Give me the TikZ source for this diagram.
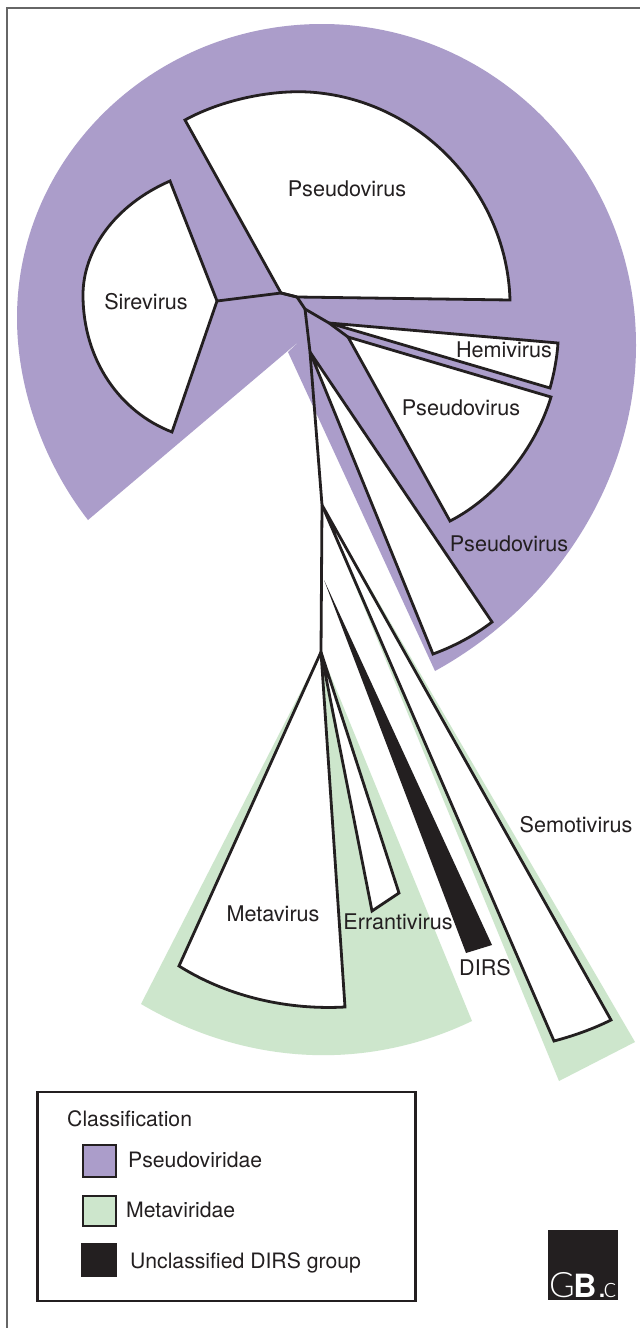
\documentclass[tikz,border=0pt]{standalone}
\usepackage{fontspec}
\setmainfont{TeX Gyre Heros}
\newfontfamily\logolight{Lato Light}
\definecolor{purp}{HTML}{AB9DCA}
\definecolor{gree}{HTML}{CDE6CC}
\definecolor{ink}{HTML}{231F20}
\tikzset{
  leaf/.style={fill=white,draw=ink,line width=2.8pt,line join=miter,miter limit=4},
  branch/.style={draw=ink,line width=2.8pt,line cap=round,line join=round},
  lab/.style={text=ink,font=\fontsize{21.6}{24}\selectfont,inner sep=0pt},
  keylab/.style={text=ink,font=\fontsize{21.2}{24}\selectfont,inner sep=0pt,anchor=west},
  swatch/.style={draw=ink,line width=2.5pt},
}
\begin{document}
\begin{tikzpicture}[x=1pt,y=-1pt]
\useasboundingbox (0,0) rectangle (640,1328);
\fill[white] (0,0) rectangle (640,1328);
\draw[gray!80!black,line width=1.3pt] (7,1328) -- (7,8) -- (640,8);
% purple background
\fill[purp] (88,520) .. controls (45,465) and (17,390) .. (17,318)
  .. controls (17,156) and (154,24) .. (322,24)
  .. controls (495,24) and (636,168) .. (636,345)
  .. controls (636,480) and (555,605) .. (435,671)
  -- (288,352) -- (303,338) -- cycle;
% green backgrounds
\fill[gree] (321,652) -- (141,1004) .. controls (250,1068) and (370,1070) .. (472,1021) -- cycle;
\fill[gree] (322,505) -- (635,1042) -- (559,1081) -- cycle;
% coordinates
\coordinate (j1) at (281,293);
\coordinate (j2) at (297,297);
\coordinate (j3) at (305,309);
\coordinate (j4) at (329,323);
\coordinate (j5) at (348,337);
\coordinate (j6) at (310,352);
\coordinate (j7) at (322,505);
\coordinate (j8) at (321,652);
\coordinate (j0) at (217,301);
% leaves
\path[leaf] (j1) -- (185,120) .. controls (225,98) and (280,88) .. (320,93) .. controls (425,105) and (507,195) .. (510,300) -- (j2) -- cycle;
\path[leaf] (j0) -- (170,181) .. controls (115,205) and (83,250) .. (83,295) .. controls (83,360) and (120,412) .. (172,432) -- cycle;
\path[leaf] (j4) -- (558,343) .. controls (557,358) and (554,374) .. (550,388) -- cycle;
\path[leaf] (j5) -- (551,397) .. controls (535,450) and (495,498) .. (450,521) -- cycle;
\path[leaf] (j6) -- (492,622) .. controls (475,635) and (455,646) .. (433,654) -- cycle;
\path[leaf] (j7) -- (611,1020) .. controls (593,1029) and (573,1036) .. (554,1041) -- cycle;
\fill[ink] (324,580) -- (492,945) -- (466,953) -- cycle;
\path[leaf] (j8) -- (179,966) .. controls (230,998) and (290,1010) .. (345,1007) -- cycle;
\path[leaf] (j8) -- (399,893) -- (372,911) -- cycle;
% branches
\draw[branch] (j0) -- (j1) -- (j2) -- (j3) -- (j4) -- (j5);
\draw[branch] (j3) -- (j6) -- (j7) -- (j8);
% labels
\node[lab] (pv1) at (347,189) {Pseudovirus};
\node[lab] (sv) at (146,302) {Sirevirus};
\node[lab] (hv) at (504,350) {Hemivirus};
\node[lab] (pv2) at (461,408) {Pseudovirus};
\node[lab] (pv3) at (509,544) {Pseudovirus};
\node[lab] (smv) at (576,825) {Semotivirus};
\node[lab] (mv) at (273,914) {Metavirus};
\node[lab] (ev) at (398,922) {Errantivirus};
\node[lab] (dv) at (485,968) {DIRS};
% legend
\node[draw=ink,line width=2.2pt,fill=white,minimum width=378pt,minimum height=209pt,anchor=north west,inner sep=0pt] (key) at (36.3,1090.5) {};
\node[keylab] (kt) at (67,1119) {Classification};
\node[swatch,fill=purp,minimum width=33pt,minimum height=32pt,inner sep=0pt] (s1) at (99.5,1161) {};
\node[swatch,fill=gree,minimum width=33pt,minimum height=30pt,inner sep=0pt] (s2) at (99.5,1211) {};
\node[swatch,fill=ink,minimum width=34pt,minimum height=32pt,inner sep=0pt] (s3) at (99,1260) {};
\node[keylab] (k1) at (128,1160) {Pseudoviridae};
\node[keylab] (k2) at (126,1210) {Metaviridae};
\node[keylab] (k3) at (130,1263) {Unclassified DIRS group};
% logo
\node[fill=ink,minimum width=70pt,minimum height=70pt,inner sep=0pt,anchor=north west] (logo) at (548,1230) {};
\begin{scope}
\clip (548,1230) rectangle (618,1300);
\node[anchor=base west,inner sep=0pt,text=white,font=\fontsize{32}{32}\selectfont] (gb) at (549,1297) {{\logolight\fontsize{35}{35}\selectfont G}\hspace{-1.5pt}\textbf{B}\hspace{1pt}.\hspace{-3pt}{\logolight\fontsize{28}{28}\selectfont c}};
\end{scope}
\end{tikzpicture}
\end{document}
